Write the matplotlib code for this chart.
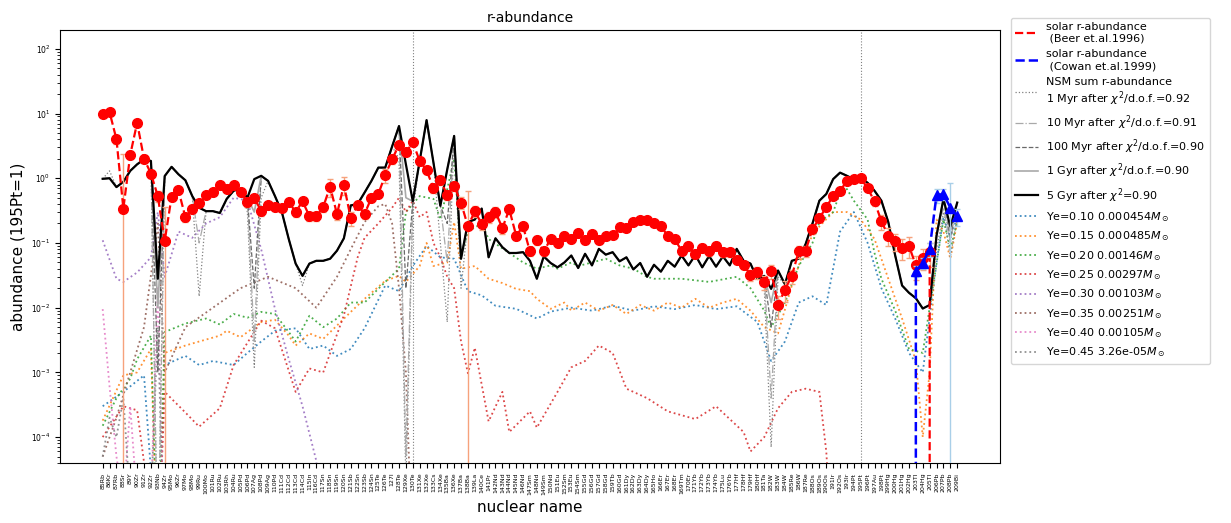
import matplotlib
matplotlib.use("Agg")
import matplotlib.pyplot as plt

# ---------------------------------------------------------------- nuclei (x axis)
nuclei = [
    "85Rb", "86Kr", "87Rb", "88Sr", "89Y", "90Zr", "91Zr", "92Zr", "93Nb", "94Zr",
    "95Mo", "96Zr", "97Mo", "98Mo", "99Ru", "100Mo", "101Ru", "102Ru", "103Rh", "104Ru",
    "105Pd", "106Pd", "107Ag", "108Pd", "109Ag", "110Pd", "111Cd", "112Cd", "113Cd", "114Cd",
    "115In", "116Cd", "117Sn", "118Sn", "119Sn", "120Sn", "121Sb", "122Sn", "123Sb", "124Sn",
    "125Te", "126Te", "127I", "128Te", "129Xe", "130Te", "131Xe", "132Xe", "133Cs", "134Xe",
    "135Ba", "136Xe", "137Ba", "138Ba", "139La", "140Ce", "141Pr", "142Nd", "143Nd", "144Nd",
    "145Nd", "146Nd", "147Sm", "148Nd", "149Sm", "150Nd", "151Eu", "152Sm", "153Eu", "154Sm",
    "155Gd", "156Gd", "157Gd", "158Gd", "159Tb", "160Gd", "161Dy", "162Dy", "163Dy", "164Dy",
    "165Ho", "166Er", "167Er", "168Er", "169Tm", "170Er", "171Yb", "172Yb", "173Yb", "174Yb",
    "175Lu", "176Yb", "177Hf", "178Hf", "179Hf", "180Hf", "181Ta", "182W", "183W", "184W",
    "185Re", "186W", "187Re", "188Os", "189Os", "190Os", "191Ir", "192Os", "193Ir", "194Pt",
    "195Pt", "196Pt", "197Au", "198Pt", "199Hg", "200Hg", "201Hg", "202Hg", "203Tl", "204Hg",
    "205Tl", "206Pb", "207Pb", "208Pb", "209Bi",
]
peak_nuclei = ["130Te", "195Pt"]

# ---------------------------------------------------------------- solar r-abundances
solar_beer = [
    9.9, 10.5, 4.0, 0.34, 2.3, 7.2, 2.0, 1.18, 0.53, 0.107,
    0.52, 0.65, 0.25, 0.34, 0.41, 0.55, 0.62, 0.78, 0.68, 0.78,
    0.62, 0.43, 0.50, 0.31, 0.38, 0.36, 0.35, 0.43, 0.30, 0.44,
    0.26, 0.26, 0.36, 0.74, 0.28, 0.79, 0.24, 0.39, 0.28, 0.50,
    0.57, 1.12, 1.96, 3.3, 2.5, 3.6, 1.85, 1.33, 0.70, 0.93,
    0.55, 0.76, 0.42, 0.18, 0.31, 0.196, 0.25, 0.30, 0.17, 0.33,
    0.13, 0.18, 0.074, 0.11, 0.074, 0.115, 0.10, 0.13, 0.115, 0.14,
    0.11, 0.137, 0.11, 0.13, 0.134, 0.174, 0.17, 0.21, 0.226, 0.228,
    0.20, 0.18, 0.13, 0.115, 0.076, 0.089, 0.068, 0.084, 0.074, 0.091,
    0.072, 0.072, 0.055, 0.046, 0.032, 0.035, 0.025, 0.037, 0.011, 0.019,
    0.031, 0.074, 0.076, 0.164, 0.24, 0.36, 0.53, 0.64, 0.91, 0.96,
    1.0, 0.70, 0.44, 0.215, 0.13, 0.106, 0.084, 0.09, 0.045, 0.059,
    0.072, 0.0,
]
solar_beer_relerr = [
    0.10, 0.10, 0.15, 5.90, 0.15, 0.12, 0.15, 0.15, 0.20, 2.40,
    0.15, 0.12, 0.15, 0.15, 0.10, 0.10, 0.10, 0.10, 0.10, 0.10,
    0.10, 0.15, 0.10, 0.15, 0.10, 0.12, 0.12, 0.10, 0.15, 0.10,
    0.15, 0.15, 0.15, 0.30, 0.20, 0.30, 0.25, 0.15, 0.15, 0.15,
    0.12, 0.25, 0.15, 0.12, 0.12, 0.10, 0.12, 0.12, 0.15, 0.15,
    0.15, 0.15, 0.20, 2.50, 0.20, 0.20, 0.20, 0.20, 0.20, 0.15,
    0.15, 0.15, 0.15, 0.15, 0.15, 0.12, 0.12, 0.12, 0.12, 0.12,
    0.12, 0.12, 0.12, 0.10, 0.10, 0.10, 0.10, 0.10, 0.10, 0.10,
    0.10, 0.10, 0.12, 0.12, 0.15, 0.15, 0.15, 0.15, 0.15, 0.15,
    0.15, 0.15, 0.15, 0.15, 0.20, 0.20, 0.25, 0.25, 0.40, 0.35,
    0.25, 0.20, 0.20, 0.15, 0.12, 0.10, 0.10, 0.10, 0.08, 0.08,
    0.08, 0.10, 0.15, 0.25, 0.30, 0.30, 0.35, 0.35, 0.40, 0.35,
    0.40, 0.0,
]
cowan_first = "202Hg"
solar_cowan = [0.0, 0.037, 0.049, 0.081, 0.55, 0.57, 0.35, 0.26]
solar_cowan_relerr = [0.0, 0.20, 0.20, 0.25, 0.25, 0.20, 1.40, 0.30]

# ---------------------------------------------------------------- NSM sums
nsm_5gyr = [
    0.98, 1.0, 0.73, 0.88, 1.3, 1.64, 1.96, 1.85, 0.028, 1.08,
    1.5, 1.15, 0.93, 0.53, 0.35, 0.31, 0.31, 0.29, 0.48, 0.64,
    0.69, 0.50, 0.97, 1.09, 0.91, 0.53, 0.30, 0.115, 0.048, 0.031,
    0.048, 0.053, 0.053, 0.057, 0.076, 0.118, 0.38, 0.40, 0.60, 0.91,
    1.46, 1.46, 3.1, 6.4, 1.64, 0.44, 1.85, 7.9, 1.74, 0.375,
    1.37, 4.5, 0.057, 0.21, 0.23, 0.34, 0.06, 0.118, 0.086, 0.07,
    0.07, 0.072, 0.053, 0.028, 0.062, 0.049, 0.042, 0.05, 0.064, 0.041,
    0.068, 0.045, 0.081, 0.066, 0.072, 0.052, 0.06, 0.039, 0.049, 0.030,
    0.046, 0.036, 0.053, 0.043, 0.064, 0.045, 0.065, 0.042, 0.063, 0.043,
    0.062, 0.045, 0.081, 0.053, 0.048, 0.028, 0.031, 0.0195, 0.0375, 0.023,
    0.053, 0.057, 0.096, 0.20, 0.45, 0.57, 0.97, 1.22, 1.09, 0.96,
    1.02, 0.85, 0.64, 0.45, 0.21, 0.064, 0.022, 0.017, 0.014, 0.0097,
    0.011, 0.13, 0.48, 0.18, 0.42,
]
# earlier snapshots coincide with the 5 Gyr curve except at these nuclei
nsm_1myr_diff = {"86Kr": 1.3, "93Nb": 1e-6, "99Ru": 0.015, "106Pd": 0.3, "107Ag": 1.2e-3,
                 "108Pd": 0.5, "114Cd": 0.022, "128Te": 2.0, "129Xe": 2e-5, "130Te": 0.3,
                 "134Xe": 0.1, "135Ba": 0.006, "137Ba": 0.02, "181Ta": 0.02, "182W": 7e-5,
                 "183W": 0.03, "206Pb": 0.08, "207Pb": 0.3, "208Pb": 0.06, "209Bi": 0.25}
nsm_10myr_diff = {"93Nb": 1e-6, "99Ru": 0.1, "107Ag": 3e-3, "129Xe": 5e-5, "135Ba": 0.05,
                  "182W": 4e-4, "207Pb": 0.35, "208Pb": 0.1}
nsm_100myr_diff = {"93Nb": 1e-3, "107Ag": 0.02, "129Xe": 0.02, "135Ba": 0.2, "182W": 5e-3,
                   "208Pb": 0.12}
nsm_1gyr_diff = {"93Nb": 0.01, "107Ag": 0.3, "129Xe": 0.5, "182W": 0.012, "208Pb": 0.15}

# ---------------------------------------------------------------- single-Ye trajectories
ye_010 = [(0, 3e-4), (3, 5e-4), (6, 9e-4), (8, 1e-6), (9, 1.3e-3), (12, 1.8e-3), (14, 1.3e-3),
          (16, 1.5e-3), (19, 1.3e-3), (21, 2e-3), (23, 3e-3), (25, 4.4e-3), (28, 4.8e-3),
          (30, 2.3e-3), (32, 2.6e-3), (34, 1.8e-3), (36, 2.3e-3), (38, 4.8e-3), (41, 0.022),
          (43, 0.018), (45, 0.044), (47, 0.09), (49, 0.06), (51, 0.057), (53, 0.018),
          (55, 0.0155), (57, 0.0107), (60, 0.0096), (63, 0.0068), (65, 0.0087), (68, 0.01),
          (71, 0.009), (74, 0.0107), (77, 0.009), (80, 0.0105), (83, 0.0095), (86, 0.011),
          (89, 0.0095), (92, 0.0105), (95, 0.006), (97, 1.5e-3), (99, 3e-3), (101, 0.012),
          (103, 0.015), (105, 0.011), (107, 0.15), (109, 0.3), (111, 0.1), (113, 0.02),
          (115, 0.0068), (117, 2e-3), (119, 1e-3), (121, 0.05), (122, 0.25), (123, 0.12),
          (124, 0.25)]
ye_015 = [(0, 1.8e-4), (3, 9e-4), (5, 1e-3), (7, 2.3e-3), (8, 1e-6), (9, 2e-3), (12, 2.6e-3),
          (14, 3e-3), (17, 3.7e-3), (18, 4.4e-3), (20, 3.5e-3), (23, 6e-3), (25, 6.5e-3),
          (27, 3.7e-3), (28, 2.6e-3), (30, 4e-3), (32, 3.3e-3), (34, 5.3e-3), (36, 8.6e-3),
          (38, 0.0137), (41, 0.026), (43, 0.031), (44, 0.025), (46, 0.044), (47, 0.1),
          (48, 0.044), (50, 0.05), (51, 0.21), (52, 0.04), (54, 0.044), (56, 0.028),
          (58, 0.024), (60, 0.0195), (62, 0.018), (63, 0.0137), (65, 0.0096), (67, 0.012),
          (68, 0.009), (70, 0.012), (72, 0.009), (74, 0.011), (76, 0.008), (78, 0.011),
          (80, 0.009), (82, 0.012), (84, 0.01), (86, 0.0137), (88, 0.01), (90, 0.012),
          (92, 0.0137), (94, 0.009), (96, 0.005), (98, 0.004), (100, 0.022), (102, 0.09),
          (104, 0.18), (106, 0.3), (108, 0.3), (110, 0.23), (112, 0.115), (114, 0.028),
          (116, 0.0068), (118, 1.5e-3), (119, 1e-4), (120, 1e-3), (121, 0.23), (122, 0.15),
          (123, 0.057), (124, 0.21)]
ye_020 = [(0, 1.5e-4), (2, 4e-4), (4, 8e-4), (5, 1.6e-3), (7, 3.7e-3), (8, 1e-6), (9, 4.2e-3),
          (12, 5.7e-3), (15, 6.8e-3), (17, 5.5e-3), (19, 8e-3), (21, 7e-3), (23, 8.6e-3),
          (25, 8e-3), (27, 4.2e-3), (28, 3e-3), (30, 7.5e-3), (32, 5e-3), (34, 6.8e-3),
          (36, 0.012), (38, 0.012), (41, 0.025), (43, 0.04), (44, 0.3), (46, 0.53), (48, 0.48),
          (49, 0.23), (51, 2.0), (52, 0.06), (53, 0.15), (55, 0.2), (56, 0.115), (59, 0.07),
          (61, 0.05), (63, 0.04), (65, 0.045), (66, 0.04), (68, 0.05), (69, 0.044), (71, 0.05),
          (73, 0.057), (75, 0.045), (77, 0.04), (79, 0.03), (80, 0.028), (84, 0.028),
          (88, 0.025), (92, 0.03), (94, 0.02), (96, 0.009), (97, 0.005), (99, 0.012),
          (101, 0.044), (103, 0.1), (104, 0.21), (106, 0.3), (107, 0.6), (108, 0.68),
          (109, 0.45), (111, 0.23), (112, 0.07), (113, 0.028), (115, 0.009), (117, 0.0023),
          (119, 0.002), (120, 0.01), (122, 0.23), (123, 0.08), (124, 0.21)]
ye_025 = [(0, 1e-4), (3, 3e-4), (5, 2.6e-4), (8, 1e-6), (9, 5e-4), (12, 2.4e-4), (14, 1.45e-4),
          (17, 2.8e-4), (19, 1.3e-3), (23, 6.3e-3), (25, 4.8e-3), (28, 5e-4), (30, 1.15e-3),
          (32, 1e-3), (35, 7.6e-3), (37, 0.06), (38, 0.12), (40, 0.2), (42, 0.35), (43, 0.5),
          (44, 0.3), (45, 0.45), (46, 0.25), (47, 0.3), (48, 0.1), (49, 0.06), (50, 0.03),
          (51, 0.02), (52, 3e-3), (53, 9.7e-4), (54, 2.4e-3), (56, 1.75e-4), (58, 5e-4),
          (59, 1.2e-4), (62, 2.5e-4), (63, 1.4e-4), (66, 5e-4), (68, 1.2e-3), (70, 1.5e-3),
          (72, 2.6e-3), (74, 2e-3), (76, 5.6e-4), (79, 4e-4), (82, 2.5e-4), (86, 1.9e-4),
          (89, 3e-4), (93, 1.2e-4), (94, 6e-5), (96, 1e-4), (98, 2.8e-4), (100, 5e-4),
          (102, 5.6e-4), (104, 5e-4), (105, 6e-5), (106, 1e-6)]
ye_030 = [(0, 0.11), (2, 0.028), (3, 0.025), (5, 0.035), (7, 0.06), (8, 0.3), (9, 0.03),
          (11, 0.15), (13, 0.12), (15, 0.2), (17, 0.25), (19, 0.5), (21, 0.45), (23, 0.08),
          (25, 0.0096), (27, 1.6e-3), (29, 3e-4), (31, 4.3e-5), (32, 1e-6)]
ye_035 = [(0, 5e-5), (2, 2e-4), (4, 1e-3), (6, 5e-3), (8, 0.2), (9, 1e-3), (12, 5e-3),
          (16, 0.01), (20, 0.02), (24, 0.03), (28, 0.02), (31, 0.01), (34, 0.03), (36, 0.08),
          (38, 0.21), (40, 0.37), (41, 0.4), (42, 0.2), (43, 0.02), (44, 1e-3), (45, 1e-6)]
ye_040 = [(0, 0.0095), (1, 6e-4), (2, 5e-5), (3, 1e-5), (4, 3e-4), (5, 1e-5), (7, 1e-5),
          (8, 0.02), (9, 1e-6)]
ye_045 = [(0, 5e-5), (1, 2e-4), (2, 1e-4), (3, 4e-4), (4, 1e-5), (7, 1e-5), (8, 0.005),
          (9, 1e-6)]

ye_labels = [r"Ye=0.10 0.000454$M_\odot$", r"Ye=0.15 0.000485$M_\odot$",
             r"Ye=0.20 0.00146$M_\odot$", r"Ye=0.25 0.00297$M_\odot$",
             r"Ye=0.30 0.00103$M_\odot$", r"Ye=0.35 0.00251$M_\odot$",
             r"Ye=0.40 0.00105$M_\odot$", r"Ye=0.45 3.26e-05$M_\odot$"]
ye_series = [ye_010, ye_015, ye_020, ye_025, ye_030, ye_035, ye_040, ye_045]
ye_colors = ["tab:blue", "tab:orange", "tab:green", "tab:red",
             "tab:purple", "tab:brown", "tab:pink", "tab:gray"]

# ---------------------------------------------------------------- figure
fig = plt.figure(figsize=(12.31, 5.23), dpi=100)
ax = fig.add_axes([0.0487, 0.1147, 0.7636, 0.8279])
ax.set_yscale("log")

pos = {name: i for i, name in enumerate(nuclei)}
xs_all = list(range(len(nuclei)))


def replaced(base, diff):
    vals = list(base)
    for name, v in diff.items():
        vals[pos[name]] = v
    return vals


# single-Ye components
ye_handles = []
for pts, col, lab in zip(ye_series, ye_colors, ye_labels):
    xi = [p[0] for p in pts]
    yi = [p[1] for p in pts]
    h, = ax.plot(xi, yi, ls=":", color=col, lw=1.3, alpha=0.85, label=lab, zorder=2)
    ye_handles.append(h)

# markers at the 2nd and 3rd peaks
for name in peak_nuclei:
    ax.axvline(pos[name], color="gray", ls=":", lw=0.8, zorder=1)

# NSM sums
h1, = ax.plot(xs_all, replaced(nsm_5gyr, nsm_1myr_diff), ls=":", color="gray", lw=0.9,
              label="NSM sum r-abundance\n1 Myr after $\\chi^2$/d.o.f.=0.92", zorder=3)
h2, = ax.plot(xs_all, replaced(nsm_5gyr, nsm_10myr_diff), ls="-.", color="darkgray", lw=0.9,
              label="10 Myr after $\\chi^2$/d.o.f.=0.91", zorder=3)
h3, = ax.plot(xs_all, replaced(nsm_5gyr, nsm_100myr_diff), ls="--", color="dimgray", lw=0.9,
              label="100 Myr after $\\chi^2$/d.o.f.=0.90", zorder=3)
h4, = ax.plot(xs_all, replaced(nsm_5gyr, nsm_1gyr_diff), ls="-", color="darkgray", lw=1.2,
              label="1 Gyr after $\\chi^2$/d.o.f.=0.90", zorder=3)
h5, = ax.plot(xs_all, nsm_5gyr, ls="-", color="black", lw=1.6,
              label="5 Gyr after $\\chi^2$=0.90", zorder=4)

# solar r-process pattern (Beer et al. 1996)
xb = list(range(len(solar_beer)))
eb = [v * r for v, r in zip(solar_beer, solar_beer_relerr)]
ax.errorbar(xb, solar_beer, yerr=eb, fmt="o", color="red", ms=7, ecolor="#f6a27c",
            elinewidth=1.0, capsize=2, zorder=5)
hb, = ax.plot(xb, solar_beer, ls="--", color="red", lw=1.6,
              label="solar r-abundance\n (Beer et.al.1996)", zorder=5)

# solar r-process pattern (Cowan et al. 1999)
c0 = pos[cowan_first]
xc = list(range(c0, c0 + len(solar_cowan)))
ec = [v * r for v, r in zip(solar_cowan, solar_cowan_relerr)]
ax.errorbar(xc, solar_cowan, yerr=ec, fmt="^", color="blue", ms=7, ecolor="#a9cfe8",
            elinewidth=1.0, capsize=2, zorder=6)
hc, = ax.plot(xc, solar_cowan, ls="--", color="blue", lw=1.8,
              label="solar r-abundance\n (Cowan et.al.1999)", zorder=6)

ax.set_ylim(10 ** -4.4, 10 ** 2.29)
ax.set_xticks(xs_all)
ax.set_xticklabels(nuclei, rotation=90, fontsize=4.5)
ax.tick_params(axis="y", labelsize=5.5)
ax.set_title("r-abundance", fontsize=10)
ax.set_xlabel("nuclear name", fontsize=11)
ax.set_ylabel("abundance (195Pt=1)", fontsize=11)

handles = [hb, hc, h1, h2, h3, h4, h5] + ye_handles
ax.legend(handles=handles, loc="upper left", bbox_to_anchor=(1.0117, 1.028),
          borderaxespad=0, fontsize=8)

fig.savefig("out.png", dpi=100)
